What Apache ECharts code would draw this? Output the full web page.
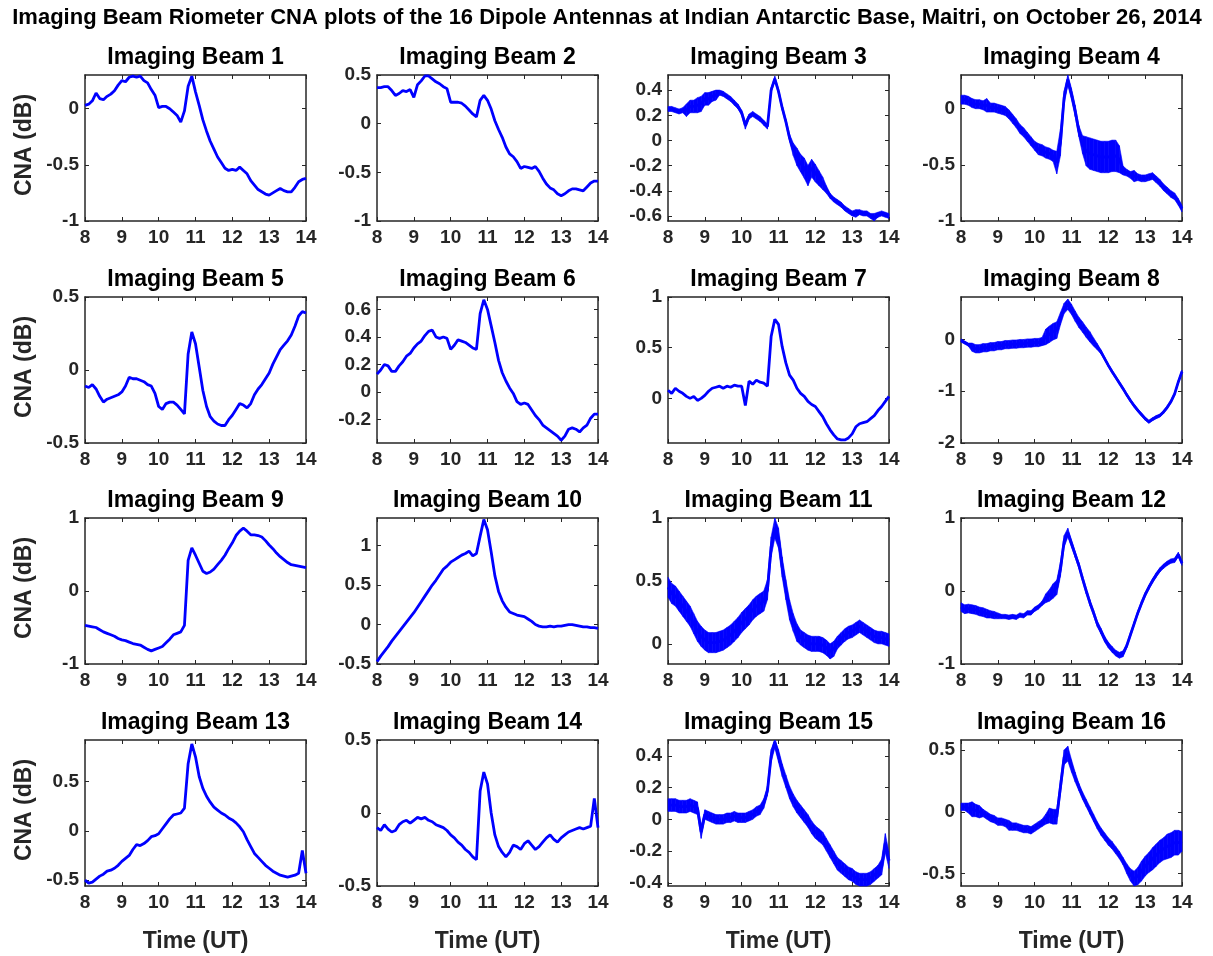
<!DOCTYPE html>
<html>
<head>
<meta charset="utf-8">
<script src="https://cdn.jsdelivr.net/npm/echarts@6/dist/echarts.min.js"></script>
<style>
  html, body { margin: 0; padding: 0; background: #ffffff; }
  #chart { width: 1213px; height: 956px; }
</style>
</head>
<body>
<div id="chart"></div>
<script>
// ---- Labels ----
const FIG_TITLE = 'Imaging Beam Riometer CNA plots of the 16 Dipole Antennas at Indian Antarctic Base, Maitri, on October 26, 2014';
const PANEL_TITLES = [
  'Imaging Beam 1', 'Imaging Beam 2', 'Imaging Beam 3', 'Imaging Beam 4',
  'Imaging Beam 5', 'Imaging Beam 6', 'Imaging Beam 7', 'Imaging Beam 8',
  'Imaging Beam 9', 'Imaging Beam 10', 'Imaging Beam 11', 'Imaging Beam 12',
  'Imaging Beam 13', 'Imaging Beam 14', 'Imaging Beam 15', 'Imaging Beam 16'
];
const Y_NAME = 'CNA (dB)';
const X_NAME = 'Time (UT)';

// ---- Time samples (UT hours) ----
const TIME = [8.0, 8.1, 8.2, 8.3, 8.4, 8.5, 8.6, 8.7, 8.8, 8.9,
  9.0, 9.1, 9.2, 9.3, 9.4, 9.5, 9.6, 9.7, 9.8, 9.9,
  10.0, 10.1, 10.2, 10.3, 10.4, 10.5, 10.6, 10.7, 10.8, 10.9,
  11.0, 11.1, 11.2, 11.3, 11.4, 11.5, 11.6, 11.7, 11.8, 11.9,
  12.0, 12.1, 12.2, 12.3, 12.4, 12.5, 12.6, 12.7, 12.8, 12.9,
  13.0, 13.1, 13.2, 13.3, 13.4, 13.5, 13.6, 13.7, 13.8, 13.9, 14.0];

// ---- CNA (dB) per beam, one value per time sample ----
const beam1 = [0.03, 0.04, 0.07, 0.14, 0.09, 0.08, 0.11, 0.13, 0.16, 0.21,
  0.25, 0.24, 0.28, 0.29, 0.28, 0.29, 0.25, 0.23, 0.17, 0.12,
  0.01, 0.02, 0.02, 0.0, -0.03, -0.06, -0.12, -0.02, 0.2, 0.29,
  0.15, 0.03, -0.1, -0.2, -0.29, -0.36, -0.43, -0.48, -0.53, -0.55,
  -0.54, -0.55, -0.52, -0.55, -0.58, -0.64, -0.68, -0.72, -0.74, -0.76,
  -0.77, -0.75, -0.73, -0.71, -0.73, -0.74, -0.74, -0.7, -0.65, -0.63, -0.62];
const beam2 = [0.37, 0.37, 0.38, 0.38, 0.34, 0.29, 0.31, 0.34, 0.33, 0.35,
  0.27, 0.4, 0.44, 0.49, 0.49, 0.46, 0.43, 0.41, 0.38, 0.36,
  0.22, 0.22, 0.22, 0.21, 0.18, 0.14, 0.1, 0.07, 0.24, 0.29,
  0.24, 0.15, 0.03, -0.06, -0.14, -0.24, -0.31, -0.34, -0.39, -0.46,
  -0.44, -0.45, -0.46, -0.44, -0.49, -0.56, -0.62, -0.66, -0.68, -0.72,
  -0.74, -0.72, -0.69, -0.67, -0.67, -0.68, -0.69, -0.65, -0.61, -0.59, -0.59];
const beam3 = [0.25, 0.25, 0.24, 0.23, 0.24, 0.24, 0.27, 0.27, 0.28, 0.29,
  0.33, 0.33, 0.35, 0.36, 0.38, 0.37, 0.35, 0.33, 0.3, 0.27,
  0.22, 0.12, 0.19, 0.21, 0.19, 0.17, 0.14, 0.11, 0.4, 0.49,
  0.39, 0.26, 0.15, 0.02, -0.07, -0.13, -0.18, -0.22, -0.28, -0.22,
  -0.26, -0.3, -0.34, -0.39, -0.44, -0.47, -0.49, -0.51, -0.54, -0.56,
  -0.58, -0.58, -0.57, -0.58, -0.58, -0.6, -0.61, -0.59, -0.58, -0.59, -0.6];
const beam4 = [0.08, 0.08, 0.07, 0.05, 0.04, 0.04, 0.03, 0.03, 0.01, 0.01,
  0.0, -0.01, -0.02, -0.05, -0.09, -0.13, -0.18, -0.21, -0.25, -0.29,
  -0.33, -0.36, -0.37, -0.39, -0.4, -0.42, -0.48, -0.3, 0.1, 0.26,
  0.13, -0.02, -0.2, -0.32, -0.38, -0.4, -0.41, -0.42, -0.43, -0.43,
  -0.43, -0.42, -0.42, -0.45, -0.55, -0.57, -0.59, -0.6, -0.61, -0.62,
  -0.62, -0.61, -0.6, -0.63, -0.66, -0.7, -0.73, -0.76, -0.78, -0.83, -0.89];
const beam5 = [-0.11, -0.12, -0.1, -0.13, -0.18, -0.22, -0.2, -0.19, -0.18, -0.17,
  -0.15, -0.11, -0.05, -0.06, -0.06, -0.07, -0.08, -0.1, -0.11, -0.16,
  -0.25, -0.27, -0.23, -0.22, -0.22, -0.24, -0.27, -0.3, 0.11, 0.26,
  0.18, 0.02, -0.14, -0.25, -0.32, -0.35, -0.37, -0.38, -0.38, -0.34,
  -0.31, -0.27, -0.23, -0.24, -0.26, -0.23, -0.17, -0.13, -0.1, -0.06,
  -0.02, 0.04, 0.09, 0.14, 0.17, 0.2, 0.24, 0.3, 0.37, 0.4, 0.39];
const beam6 = [0.13, 0.16, 0.2, 0.19, 0.15, 0.15, 0.19, 0.22, 0.26, 0.28,
  0.32, 0.35, 0.37, 0.41, 0.44, 0.45, 0.4, 0.39, 0.4, 0.39,
  0.31, 0.34, 0.38, 0.37, 0.36, 0.34, 0.32, 0.31, 0.57, 0.67,
  0.6, 0.48, 0.36, 0.23, 0.14, 0.08, 0.03, -0.01, -0.07, -0.09,
  -0.08, -0.09, -0.13, -0.17, -0.2, -0.24, -0.26, -0.28, -0.3, -0.32,
  -0.35, -0.32, -0.27, -0.26, -0.27, -0.29, -0.26, -0.24, -0.19, -0.16, -0.16];
const beam7 = [0.08, 0.05, 0.1, 0.07, 0.05, 0.02, 0.0, 0.02, -0.02, 0.0,
  0.03, 0.07, 0.1, 0.11, 0.12, 0.1, 0.12, 0.11, 0.13, 0.12,
  0.12, -0.07, 0.17, 0.14, 0.18, 0.16, 0.15, 0.12, 0.61, 0.78,
  0.73, 0.51, 0.35, 0.23, 0.18, 0.1, 0.05, 0.02, -0.03, -0.06,
  -0.08, -0.13, -0.18, -0.25, -0.31, -0.36, -0.4, -0.41, -0.41, -0.39,
  -0.35, -0.28, -0.25, -0.24, -0.23, -0.2, -0.17, -0.12, -0.08, -0.03, 0.02];
const beam8 = [-0.02, -0.06, -0.1, -0.15, -0.18, -0.18, -0.16, -0.16, -0.14, -0.14,
  -0.12, -0.12, -0.1, -0.1, -0.09, -0.09, -0.08, -0.08, -0.07, -0.07,
  -0.06, -0.06, -0.04, 0.05, 0.1, 0.15, 0.18, 0.4, 0.6, 0.68,
  0.58, 0.45, 0.33, 0.24, 0.14, 0.05, -0.05, -0.14, -0.24, -0.37,
  -0.5, -0.62, -0.73, -0.84, -0.95, -1.07, -1.18, -1.28, -1.37, -1.45,
  -1.53, -1.59, -1.54, -1.5, -1.47, -1.4, -1.31, -1.2, -1.05, -0.82, -0.62];
const beam9 = [-0.47, -0.48, -0.49, -0.5, -0.53, -0.56, -0.58, -0.6, -0.62, -0.65,
  -0.67, -0.68, -0.7, -0.72, -0.73, -0.74, -0.77, -0.8, -0.82, -0.8,
  -0.78, -0.76, -0.71, -0.66, -0.6, -0.58, -0.56, -0.47, 0.42, 0.59,
  0.49, 0.38, 0.27, 0.24, 0.26, 0.3, 0.36, 0.42, 0.49, 0.58,
  0.66, 0.76, 0.82, 0.86, 0.82, 0.77, 0.77, 0.76, 0.74, 0.69,
  0.63, 0.58, 0.52, 0.47, 0.43, 0.39, 0.36, 0.35, 0.34, 0.33, 0.32];
const beam10 = [-0.47, -0.4, -0.34, -0.28, -0.21, -0.15, -0.09, -0.03, 0.03, 0.09,
  0.15, 0.22, 0.29, 0.36, 0.43, 0.5, 0.56, 0.63, 0.7, 0.74,
  0.79, 0.82, 0.85, 0.88, 0.9, 0.93, 0.87, 0.9, 1.12, 1.33,
  1.2, 0.92, 0.62, 0.42, 0.3, 0.22, 0.16, 0.14, 0.12, 0.11,
  0.1, 0.07, 0.04, 0.0, -0.02, -0.03, -0.03, -0.02, -0.03, -0.02,
  -0.02, -0.01, 0.0, 0.0, -0.01, -0.02, -0.03, -0.03, -0.04, -0.04, -0.05];
const beam11 = [0.45, 0.4, 0.38, 0.34, 0.3, 0.26, 0.22, 0.16, 0.1, 0.06,
  0.03, 0.01, 0.01, 0.01, 0.02, 0.03, 0.05, 0.07, 0.1, 0.13,
  0.17, 0.2, 0.23, 0.27, 0.3, 0.32, 0.34, 0.43, 0.77, 0.92,
  0.84, 0.61, 0.43, 0.27, 0.17, 0.09, 0.05, 0.03, 0.01, 0.0,
  0.0, 0.0, -0.01, -0.03, -0.06, -0.04, 0.01, 0.04, 0.07, 0.09,
  0.1, 0.12, 0.14, 0.12, 0.1, 0.08, 0.06, 0.05, 0.05, 0.04, 0.03];
const beam12 = [-0.22, -0.25, -0.24, -0.25, -0.26, -0.28, -0.29, -0.31, -0.32, -0.33,
  -0.34, -0.35, -0.35, -0.36, -0.35, -0.36, -0.33, -0.34, -0.3, -0.3,
  -0.25, -0.22, -0.17, -0.1, -0.06, 0.0, 0.05, 0.3, 0.68, 0.8,
  0.65, 0.5, 0.35, 0.17, 0.0, -0.16, -0.3, -0.45, -0.55, -0.66,
  -0.74, -0.8, -0.85, -0.88, -0.86, -0.75, -0.6, -0.45, -0.3, -0.17,
  -0.05, 0.05, 0.14, 0.22, 0.29, 0.34, 0.38, 0.41, 0.42, 0.5, 0.38];
const beam13 = [-0.5, -0.53, -0.52, -0.49, -0.46, -0.44, -0.41, -0.4, -0.38, -0.35,
  -0.31, -0.28, -0.25, -0.19, -0.14, -0.15, -0.13, -0.1, -0.06, -0.05,
  -0.03, 0.02, 0.07, 0.12, 0.16, 0.17, 0.18, 0.23, 0.68, 0.88,
  0.75, 0.55, 0.43, 0.35, 0.29, 0.24, 0.21, 0.18, 0.16, 0.13,
  0.11, 0.08, 0.04, -0.01, -0.09, -0.16, -0.23, -0.27, -0.31, -0.35,
  -0.38, -0.41, -0.43, -0.45, -0.46, -0.47, -0.46, -0.45, -0.43, -0.2, -0.43];
const beam14 = [-0.1, -0.12, -0.08, -0.11, -0.13, -0.12, -0.08, -0.06, -0.05, -0.07,
  -0.05, -0.03, -0.04, -0.03, -0.05, -0.06, -0.08, -0.09, -0.1, -0.12,
  -0.15, -0.17, -0.2, -0.22, -0.25, -0.27, -0.3, -0.32, 0.15, 0.28,
  0.2, 0.0, -0.15, -0.23, -0.27, -0.3, -0.27, -0.22, -0.23, -0.25,
  -0.21, -0.19, -0.22, -0.25, -0.23, -0.2, -0.17, -0.15, -0.18, -0.2,
  -0.17, -0.15, -0.13, -0.12, -0.11, -0.1, -0.11, -0.1, -0.09, 0.1, -0.1];
const beam15 = [0.09, 0.09, 0.09, 0.08, 0.08, 0.08, 0.09, 0.08, 0.07, -0.08,
  0.03, 0.02, 0.01, 0.0, 0.0, 0.0, 0.01, 0.01, 0.02, 0.01,
  0.01, 0.01, 0.02, 0.03, 0.05, 0.06, 0.1, 0.18, 0.4, 0.49,
  0.4, 0.31, 0.24, 0.17, 0.12, 0.08, 0.05, 0.02, -0.01, -0.05,
  -0.08, -0.1, -0.12, -0.16, -0.2, -0.24, -0.28, -0.3, -0.32, -0.34,
  -0.35, -0.37, -0.38, -0.38, -0.38, -0.37, -0.35, -0.33, -0.3, -0.15, -0.26];
const beam16 = [0.04, 0.04, 0.03, 0.02, 0.01, 0.0, -0.01, -0.03, -0.05, -0.06,
  -0.08, -0.08, -0.09, -0.11, -0.12, -0.12, -0.13, -0.14, -0.14, -0.15,
  -0.13, -0.11, -0.09, -0.06, -0.03, -0.04, -0.04, 0.2, 0.44, 0.47,
  0.37, 0.28, 0.2, 0.13, 0.07, 0.01, -0.05, -0.11, -0.16, -0.2,
  -0.24, -0.27, -0.31, -0.35, -0.4, -0.46, -0.51, -0.54, -0.52, -0.48,
  -0.44, -0.41, -0.38, -0.35, -0.32, -0.3, -0.28, -0.27, -0.25, -0.25, -0.24];
const BEAMS = [beam1, beam2, beam3, beam4, beam5, beam6, beam7, beam8,
  beam9, beam10, beam11, beam12, beam13, beam14, beam15, beam16];

// ---- Half-width of the scintillation noise band (dB), noisy beams only ----
const noise3 = [0.02, 0.02, 0.02, 0.02, 0.02, 0.05, 0.05, 0.05, 0.06, 0.06,
  0.05, 0.05, 0.04, 0.04, 0.02, 0.02, 0.02, 0.02, 0.02, 0.02,
  0.02, 0.03, 0.02, 0.02, 0.02, 0.02, 0.02, 0.02, 0.02, 0.02,
  0.02, 0.02, 0.02, 0.03, 0.05, 0.07, 0.07, 0.08, 0.08, 0.07,
  0.07, 0.06, 0.05, 0.03, 0.02, 0.02, 0.02, 0.02, 0.02, 0.02,
  0.02, 0.03, 0.02, 0.02, 0.02, 0.02, 0.03, 0.02, 0.02, 0.02, 0.02];
const noise4 = [0.04, 0.04, 0.04, 0.04, 0.04, 0.04, 0.04, 0.06, 0.04, 0.04,
  0.04, 0.04, 0.04, 0.04, 0.04, 0.04, 0.04, 0.04, 0.04, 0.04,
  0.04, 0.05, 0.05, 0.05, 0.05, 0.05, 0.1, 0.12, 0.06, 0.05,
  0.05, 0.05, 0.05, 0.08, 0.13, 0.14, 0.14, 0.14, 0.14, 0.14,
  0.14, 0.14, 0.14, 0.12, 0.04, 0.03, 0.03, 0.05, 0.03, 0.03,
  0.03, 0.03, 0.03, 0.03, 0.03, 0.03, 0.03, 0.03, 0.03, 0.03, 0.03];
const noise8 = [0.03, 0.03, 0.03, 0.08, 0.08, 0.08, 0.08, 0.08, 0.08, 0.08,
  0.08, 0.08, 0.08, 0.08, 0.08, 0.08, 0.08, 0.08, 0.08, 0.08,
  0.08, 0.08, 0.08, 0.15, 0.16, 0.16, 0.16, 0.12, 0.1, 0.1,
  0.1, 0.1, 0.1, 0.1, 0.1, 0.1, 0.08, 0.06, 0.04, 0.03,
  0.03, 0.03, 0.03, 0.03, 0.03, 0.03, 0.03, 0.03, 0.03, 0.03,
  0.03, 0.03, 0.03, 0.03, 0.03, 0.03, 0.03, 0.03, 0.03, 0.03, 0.03];
const noise11 = [0.08, 0.08, 0.08, 0.08, 0.08, 0.08, 0.08, 0.08, 0.08, 0.08,
  0.08, 0.08, 0.08, 0.08, 0.08, 0.08, 0.08, 0.08, 0.08, 0.08,
  0.08, 0.08, 0.08, 0.08, 0.08, 0.08, 0.08, 0.08, 0.08, 0.08,
  0.08, 0.08, 0.08, 0.08, 0.07, 0.07, 0.06, 0.06, 0.06, 0.06,
  0.06, 0.06, 0.06, 0.06, 0.06, 0.06, 0.05, 0.05, 0.05, 0.05,
  0.05, 0.05, 0.05, 0.05, 0.05, 0.05, 0.05, 0.05, 0.05, 0.05, 0.05];
const noise12 = [0.06, 0.06, 0.06, 0.06, 0.06, 0.06, 0.06, 0.06, 0.05, 0.05,
  0.04, 0.03, 0.03, 0.03, 0.03, 0.03, 0.03, 0.03, 0.03, 0.03,
  0.03, 0.03, 0.03, 0.06, 0.08, 0.1, 0.1, 0.1, 0.08, 0.06,
  0.05, 0.04, 0.04, 0.04, 0.04, 0.04, 0.04, 0.04, 0.04, 0.04,
  0.04, 0.04, 0.04, 0.04, 0.04, 0.03, 0.03, 0.03, 0.03, 0.03,
  0.03, 0.03, 0.03, 0.03, 0.03, 0.03, 0.03, 0.03, 0.03, 0.03, 0.03];
const noise15 = [0.04, 0.04, 0.04, 0.04, 0.04, 0.04, 0.04, 0.04, 0.04, 0.04,
  0.03, 0.03, 0.03, 0.03, 0.03, 0.03, 0.03, 0.03, 0.03, 0.03,
  0.03, 0.03, 0.03, 0.03, 0.03, 0.03, 0.03, 0.03, 0.04, 0.04,
  0.04, 0.04, 0.04, 0.04, 0.04, 0.04, 0.04, 0.04, 0.04, 0.04,
  0.04, 0.04, 0.04, 0.04, 0.04, 0.04, 0.04, 0.04, 0.04, 0.04,
  0.04, 0.04, 0.04, 0.04, 0.04, 0.04, 0.04, 0.04, 0.05, 0.06, 0.05];
const noise16 = [0.03, 0.03, 0.04, 0.06, 0.05, 0.05, 0.03, 0.03, 0.03, 0.03,
  0.03, 0.03, 0.03, 0.04, 0.03, 0.03, 0.03, 0.03, 0.03, 0.03,
  0.03, 0.03, 0.03, 0.04, 0.06, 0.06, 0.06, 0.06, 0.06, 0.06,
  0.05, 0.04, 0.03, 0.03, 0.03, 0.03, 0.03, 0.03, 0.03, 0.03,
  0.03, 0.03, 0.03, 0.03, 0.03, 0.04, 0.05, 0.06, 0.07, 0.08,
  0.08, 0.08, 0.09, 0.09, 0.09, 0.09, 0.1, 0.1, 0.1, 0.1, 0.08];
const NOISE = [null, null, noise3, noise4, null, null, null, noise8,
  null, null, noise11, noise12, null, null, noise15, noise16];

// ---- Axis limits and tick labels ----
const X_MIN = 8, X_MAX = 14, X_STEP = 1;
const Y_LIMITS = [
  [-1, 0.3], [-1, 0.5], [-0.64, 0.52], [-1, 0.3],
  [-0.5, 0.5], [-0.37, 0.69], [-0.44, 1], [-2, 0.82],
  [-1, 1], [-0.5, 1.35], [-0.16, 1], [-1, 1],
  [-0.56, 0.92], [-0.5, 0.5], [-0.42, 0.5], [-0.6, 0.58]
];
const Y_TICKS = [
  [-1, -0.5, 0], [-1, -0.5, 0, 0.5], [-0.6, -0.4, -0.2, 0, 0.2, 0.4], [-1, -0.5, 0],
  [-0.5, 0, 0.5], [-0.2, 0, 0.2, 0.4, 0.6], [0, 0.5, 1], [-2, -1, 0],
  [-1, 0, 1], [-0.5, 0, 0.5, 1], [0, 0.5, 1], [-1, 0, 1],
  [-0.5, 0, 0.5], [-0.5, 0, 0.5], [-0.4, -0.2, 0, 0.2, 0.4], [-0.5, 0, 0.5]
];

// ---- Layout ----
const COL_LEFT = [85, 377, 668, 961];
const ROW_TOP = [75, 297, 518, 740];
const PANEL_W = 221, PANEL_H = 146;
const FONT = '"Liberation Sans", Arial, Helvetica, sans-serif';
const INK = '#262626';
const LINE_BLUE = '#0000ff';

const grids = [], xAxes = [], yAxes = [], series = [], graphics = [];

const axisLineStyle = { show: true, onZero: false, lineStyle: { color: INK, width: 1.5 } };
const tickStyle = { show: true, inside: true, length: 4, lineStyle: { color: INK, width: 1 } };
const labelStyle = { fontFamily: FONT, fontWeight: 'bold', fontSize: 19, color: INK };

// Filled quadrilateral between sample k and k+1 of a noise envelope
function renderBand(params, api) {
  const p0 = api.coord([api.value(0), api.value(2)]);
  const p1 = api.coord([api.value(3), api.value(5)]);
  const p2 = api.coord([api.value(3), api.value(4)]);
  const p3 = api.coord([api.value(0), api.value(1)]);
  const pts = echarts.graphic.clipPointsByRect([p0, p1, p2, p3], params.coordSys);
  return {
    type: 'polygon',
    shape: { points: pts },
    style: { fill: LINE_BLUE, stroke: LINE_BLUE, lineWidth: 0.6 }
  };
}

for (let i = 0; i < 16; i++) {
  const r = Math.floor(i / 4), c = i % 4;
  const left = COL_LEFT[c], top = ROW_TOP[r];
  grids.push({ left: left, top: top, width: PANEL_W, height: PANEL_H, containLabel: false });

  // bottom and top time axes
  xAxes.push({
    gridIndex: i, type: 'value', position: 'bottom', min: X_MIN, max: X_MAX, interval: X_STEP,
    axisLine: axisLineStyle, axisTick: tickStyle, splitLine: { show: false },
    axisLabel: Object.assign({ margin: 7, showMinLabel: true, showMaxLabel: true, hideOverlap: false }, labelStyle)
  });
  xAxes.push({
    gridIndex: i, type: 'value', position: 'top', min: X_MIN, max: X_MAX, interval: X_STEP,
    axisLine: axisLineStyle, axisTick: tickStyle, splitLine: { show: false },
    axisLabel: { show: false }
  });

  // left and right CNA axes
  const [yMin, yMax] = Y_LIMITS[i];
  const ticks = Y_TICKS[i];
  yAxes.push({
    gridIndex: i, type: 'value', position: 'left', min: yMin, max: yMax,
    axisLine: axisLineStyle, splitLine: { show: false },
    axisTick: Object.assign({ customValues: ticks }, tickStyle),
    axisLabel: Object.assign({ margin: 6, customValues: ticks, formatter: v => String(v) }, labelStyle)
  });
  yAxes.push({
    gridIndex: i, type: 'value', position: 'right', min: yMin, max: yMax,
    axisLine: axisLineStyle, splitLine: { show: false },
    axisTick: Object.assign({ customValues: ticks }, tickStyle),
    axisLabel: { show: false }
  });

  const vals = BEAMS[i];
  const noise = NOISE[i];
  if (noise) {
    // each item spans two neighbouring samples: [t, low, high, tNext, lowNext, highNext]
    const bandData = [];
    for (let k = 0; k < TIME.length - 1; k++) {
      bandData.push([TIME[k], vals[k] - noise[k], vals[k] + noise[k],
        TIME[k + 1], vals[k + 1] - noise[k + 1], vals[k + 1] + noise[k + 1]]);
    }
    series.push({
      type: 'custom', xAxisIndex: 2 * i, yAxisIndex: 2 * i,
      renderItem: renderBand, data: bandData, silent: true,
      encode: { x: [0, 3], y: [1, 2, 4, 5] }
    });
  }
  series.push({
    type: 'line', xAxisIndex: 2 * i, yAxisIndex: 2 * i,
    data: TIME.map((t, k) => [t, vals[k]]),
    showSymbol: false, symbol: 'none', clip: true,
    lineStyle: { color: LINE_BLUE, width: 2.8 },
    emphasis: { disabled: true }
  });

  graphics.push({
    type: 'text', x: left + PANEL_W / 2, y: top - 17,
    style: { text: PANEL_TITLES[i], fontFamily: FONT, fontWeight: 'bold', fontSize: 23,
      fill: '#000000', align: 'center', verticalAlign: 'middle' }
  });
  if (c === 0) {
    graphics.push({
      type: 'text', x: 25, y: top + PANEL_H / 2 - 3, rotation: Math.PI / 2,
      style: { text: Y_NAME, fontFamily: FONT, fontWeight: 'bold', fontSize: 23,
        fill: INK, align: 'center', verticalAlign: 'middle' }
    });
  }
  if (r === 3) {
    graphics.push({
      type: 'text', x: left + PANEL_W / 2, y: 942,
      style: { text: X_NAME, fontFamily: FONT, fontWeight: 'bold', fontSize: 23,
        fill: INK, align: 'center', verticalAlign: 'middle' }
    });
  }
}

graphics.push({
  type: 'text', x: 607, y: 18,
  style: { text: FIG_TITLE, fontFamily: FONT, fontWeight: 'bold', fontSize: 22,
    fill: '#000000', align: 'center', verticalAlign: 'middle' }
});

const chart = echarts.init(document.getElementById('chart'), null, { renderer: 'canvas' });
chart.setOption({
  animation: false,
  backgroundColor: '#ffffff',
  grid: grids,
  xAxis: xAxes,
  yAxis: yAxes,
  series: series,
  graphic: graphics
});
</script>
</body>
</html>
